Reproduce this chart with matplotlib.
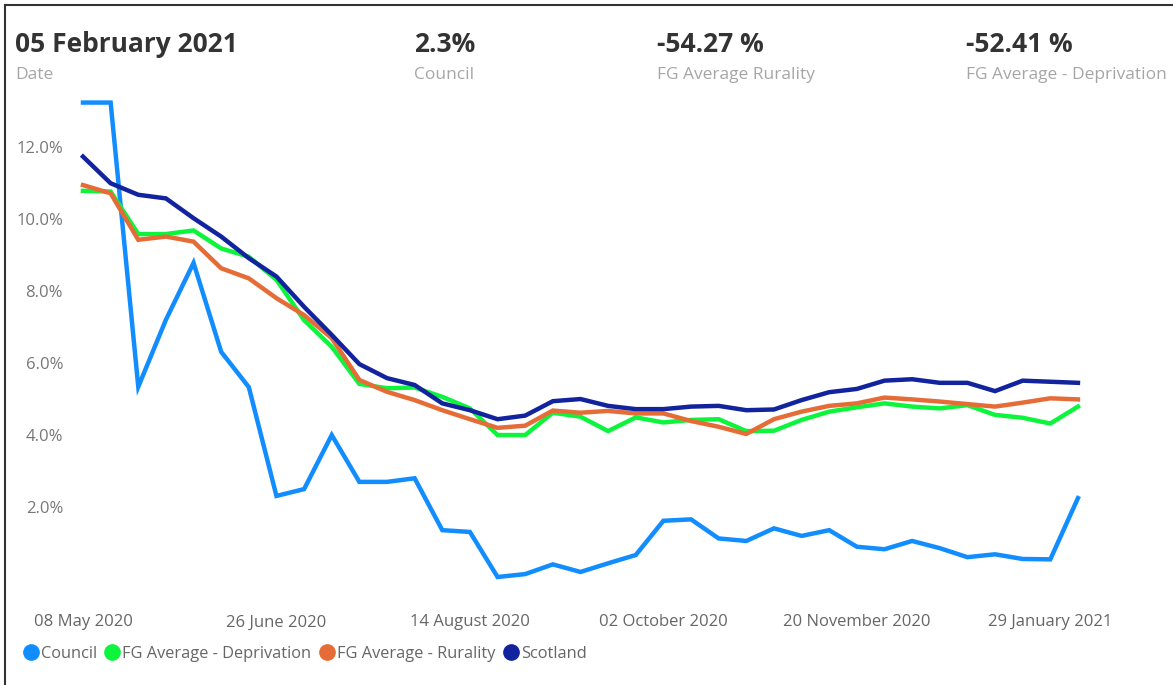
import numpy as np
import matplotlib.pyplot as plt
from matplotlib.lines import Line2D

plt.rcParams['font.family'] = ['Open Sans', 'DejaVu Sans']

# weekly values (%), 37 points
council = [13.23, 13.23, 5.34, 7.2, 8.78, 6.31, 5.33, 2.31, 2.5, 4.0,
           2.7, 2.7, 2.8, 1.36, 1.31, 0.06, 0.14, 0.41, 0.2, 0.44,
           0.67, 1.62, 1.66, 1.13, 1.06, 1.41, 1.2, 1.36, 0.9, 0.83,
           1.06, 0.86, 0.61, 0.69, 0.56, 0.55, 2.25]
deprivation = [10.78, 10.76, 9.58, 9.58, 9.68, 9.18, 8.95, 8.31, 7.19, 6.45,
               5.42, 5.3, 5.32, 5.06, 4.74, 4.0, 4.0, 4.62, 4.51, 4.11,
               4.49, 4.35, 4.42, 4.44, 4.11, 4.12, 4.42, 4.65, 4.77, 4.88,
               4.79, 4.74, 4.83, 4.56, 4.48, 4.32, 4.79]
rurality = [10.94, 10.71, 9.42, 9.51, 9.37, 8.63, 8.35, 7.8, 7.33, 6.69,
            5.53, 5.2, 4.97, 4.69, 4.44, 4.2, 4.26, 4.68, 4.62, 4.67,
            4.6, 4.6, 4.39, 4.23, 4.03, 4.44, 4.65, 4.81, 4.88, 5.04,
            4.99, 4.93, 4.86, 4.79, 4.9, 5.02, 4.99]
scotland = [11.73, 10.99, 10.67, 10.57, 10.02, 9.51, 8.91, 8.4, 7.56, 6.78,
            5.97, 5.58, 5.39, 4.88, 4.69, 4.44, 4.54, 4.94, 5.0, 4.81,
            4.72, 4.72, 4.79, 4.81, 4.69, 4.71, 4.97, 5.19, 5.28, 5.51,
            5.55, 5.45, 5.45, 5.22, 5.51, 5.48, 5.45]

tick_labels = ['08 May 2020', '26 June 2020', '14 August 2020',
               '02 October 2020', '20 November 2020', '29 January 2021']
tick_pos = [0, 7, 14, 21, 28, 35]

series = [('Council', council, '#118DFF'),
          ('FG Average - Deprivation', deprivation, '#0CF53C'),
          ('FG Average - Rurality', rurality, '#E66C37'),
          ('Scotland', scotland, '#12239E')]

W, H = 1173, 685
fig = plt.figure(figsize=(W / 100, H / 100), dpi=100)

# frame lines (top and left)
fig.add_artist(Line2D([5 / W, 1], [1 - 5 / H, 1 - 5 / H], color='#333333', lw=1.5))
fig.add_artist(Line2D([5 / W, 5 / W], [0, 1 - 5 / H], color='#333333', lw=1.5))

ax = fig.add_axes([70 / W, (H - 595) / H, 1040 / W, 500 / H])
x = np.arange(len(council))
for name, vals, col in series:
    ax.plot(x, vals, color=col, lw=3.2, label=name, solid_joinstyle='miter')

ax.set_xlim(-0.47, 37.16)
ax.set_ylim(-0.44, 13.44)
ax.set_yticks([2, 4, 6, 8, 10, 12])
ax.set_yticklabels([f'{v:.1f}%' for v in [2, 4, 6, 8, 10, 12]])
ax.set_xticks(tick_pos)
ax.set_xticklabels(tick_labels)
ax.tick_params(axis='y', length=0, pad=5, labelsize=12, labelcolor='#777777')
ax.tick_params(axis='x', length=0, pad=14, labelsize=12, labelcolor='#666666')
for s in ax.spines.values():
    s.set_visible(False)

# legend
handles = [Line2D([], [], ls='none', marker='o', markersize=11, color=c) for _, _, c in series]
fig.legend(handles, [s[0] for s in series], loc='center left',
           bbox_to_anchor=(8 / W, 1 - 654 / H), ncol=4, frameon=False,
           handletextpad=0.1, columnspacing=0.45, handlelength=1.0,
           fontsize=11.8, labelcolor='#666666')

# header cards
cards = [(15, '05 February 2021', 'Date'),
         (414, '2.3%', 'Council'),
         (657, '-54.27 %', 'FG Average Rurality'),
         (966, '-52.41 %', 'FG Average - Deprivation')]
for px, big, small in cards:
    fig.text(px / W, 1 - 44 / H, big, fontsize=19, fontweight='bold',
             color='#333333', va='center', ha='left')
    fig.text(px / W, 1 - 75 / H, small, fontsize=12.5, color='#A6A6A6',
             va='center', ha='left')

fig.savefig('out.png', dpi=100)
